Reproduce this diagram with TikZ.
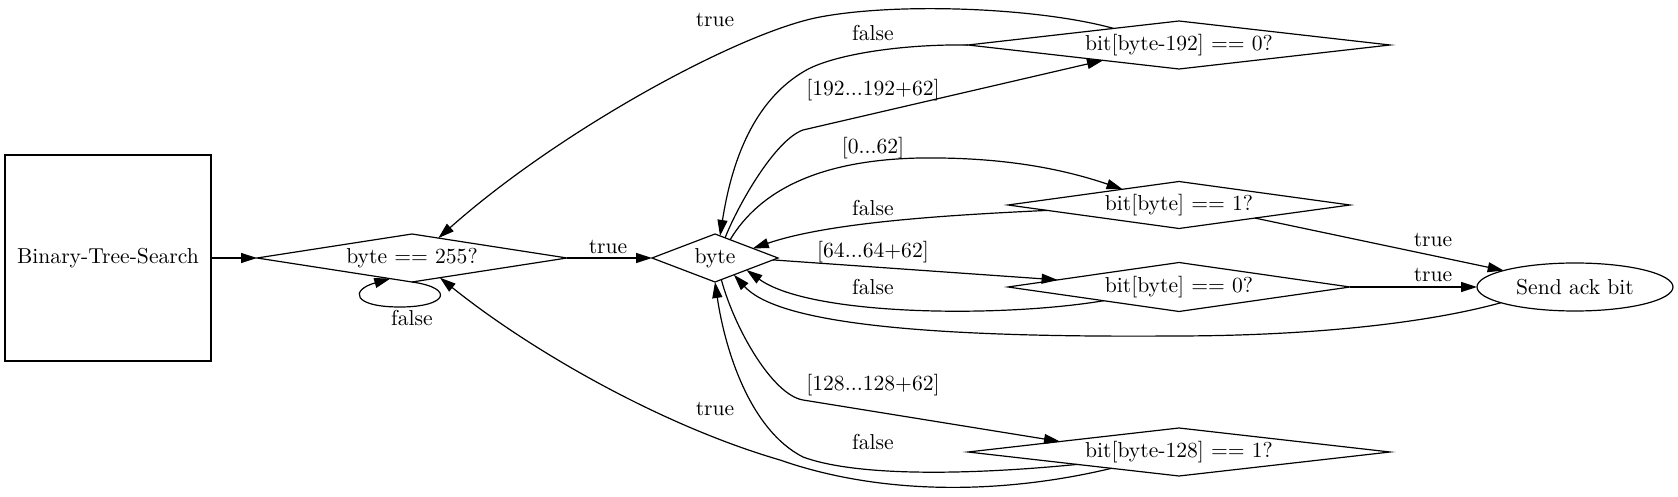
\documentclass[tikz,border=0pt]{standalone}
\usetikzlibrary{shapes.geometric,arrows.meta,calc}
\begin{document}
\begin{tikzpicture}[x=0.5pt,y=-0.5pt,
  every node/.style={font=\fontsize{10.8}{13}\selectfont},
  lbl/.style={inner sep=0pt},
  box/.style={draw,rectangle,line width=0.6pt,inner sep=0pt,outer sep=0pt},
  dia/.style={draw,diamond,line width=0.6pt,inner sep=0pt,outer sep=0pt},
  ell/.style={draw,ellipse,line width=0.6pt,inner sep=0pt,outer sep=0pt},
  conn/.style={draw,line width=0.6pt,-{Triangle[length=8pt,width=5pt]}}]
\useasboundingbox (0,0) rectangle (1678,497);
% nodes
\node[box,minimum width=103pt,minimum height=103pt] (bts) at (108,258) {Binary-Tree-Search};
\node[dia,minimum width=155pt,minimum height=24pt,aspect=6.5] (d255) at (412,258) {byte == 255?};
\node[dia,minimum width=63pt,minimum height=24pt,aspect=2.6] (byte) at (715,258) {byte};
\node[dia,minimum width=211pt,minimum height=24pt,aspect=8.8] (b192) at (1179,45) {bit[byte-192] == 0?};
\node[dia,minimum width=171pt,minimum height=23.5pt,aspect=7.3] (b1) at (1179,205) {bit[byte] == 1?};
\node[dia,minimum width=171pt,minimum height=24.5pt,aspect=7] (b0) at (1179,287) {bit[byte] == 0?};
\node[dia,minimum width=211pt,minimum height=24pt,aspect=8.8] (b128) at (1179,452) {bit[byte-128] == 1?};
\node[ell,minimum width=98pt,minimum height=24pt] (ack) at (1575,287) {Send ack bit};
% edges
\draw[conn] (bts.east) -- (d255.west);
\draw[conn] (d255.south) .. controls (455,288) and (448,307) .. (400,307)
  .. controls (352,307) and (350,290) .. ($(d255.west)!0.86!(d255.south)$)
  node[lbl] at (412,318) {false};
\draw[conn] (d255.east) -- (byte.west) node[lbl] at (608,247) {true};
\draw[conn] ($(byte.north)!0.16!(byte.east)$) .. controls (738,205) and (775,140) .. (803,130)
  -- ($(b192.west)!0.64!(b192.south)$) node[lbl] at (873,90) {[192...192+62]};
\draw[conn] (b192.west) .. controls (900,44) and (830,55) .. (803,72)
  .. controls (765,95) and (735,140) .. ($(byte.north)!0.08!(byte.east)$)
  node[lbl] at (873,33) {false};
\draw[conn] ($(b192.west)!0.69!(b192.north)$) .. controls (1040,8) and (900,2) .. (820,17)
  .. controls (740,32) and (560,130) .. ($(d255.north)!0.17!(d255.east)$)
  node[lbl] at (715,20) {true};
\draw[conn] ($(byte.north)!0.24!(byte.east)$) .. controls (760,190) and (820,160) .. (920,158)
  .. controls (1000,157) and (1060,168) .. ($(b1.west)!0.67!(b1.north)$)
  node[lbl] at (873,148) {[0...62]};
\draw[conn] ($(b1.west)!0.23!(b1.south)$) .. controls (950,215) and (830,222) .. ($(byte.north)!0.6!(byte.east)$)
  node[lbl] at (873,208) {false};
\draw[conn] ($(byte.east)!0.08!(byte.south)$) -- ($(b0.west)!0.29!(b0.north)$)
  node[lbl] at (873,252) {[64...64+62]};
\draw[conn] ($(b0.west)!0.56!(b0.south)$) .. controls (1000,318) and (810,316) .. ($(byte.east)!0.5!(byte.south)$)
  node[lbl] at (873,287) {false};
\draw[conn] (ack.192) .. controls (1420,325) and (1300,336) .. (1173,336)
  .. controls (900,338) and (775,320) .. ($(byte.east)!0.7!(byte.south)$);
\draw[conn] (b0.east) -- (ack.west) node[lbl] at (1433,275) {true};
\draw[conn] ($(b1.east)!0.556!(b1.south)$) -- (ack.167) node[lbl] at (1433,240) {true};
\draw[conn] ($(byte.south)!0.1!(byte.east)$) .. controls (735,330) and (773,395) .. (803,400)
  -- ($(b128.west)!0.436!(b128.north)$) node[lbl] at (873,385) {[128...128+62]};
\draw[conn] ($(b128.west)!0.517!(b128.south)$) .. controls (980,474) and (860,478) .. (803,457)
  .. controls (750,430) and (725,350) .. (byte.south) node[lbl] at (873,442) {false};
\draw[conn] ($(b128.west)!0.68!(b128.south)$) .. controls (1000,495) and (880,495) .. (780,460)
  .. controls (660,425) and (530,350) .. ($(d255.east)!0.82!(d255.south)$)
  node[lbl] at (715,409) {true};
\end{tikzpicture}
\end{document}
